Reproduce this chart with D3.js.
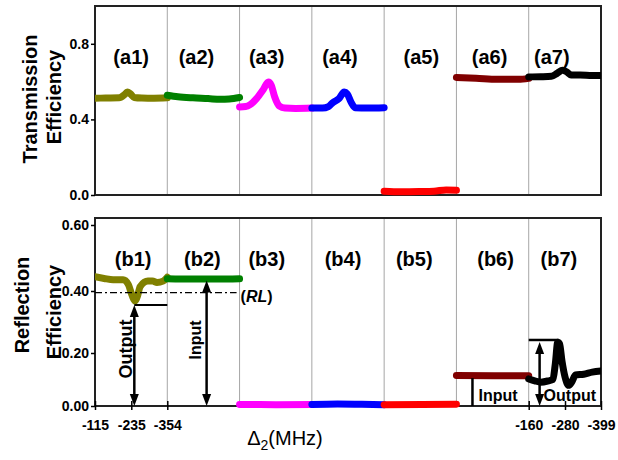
<!DOCTYPE html>
<html>
<head>
<meta charset="utf-8">
<script src="https://cdn.jsdelivr.net/npm/d3@7"></script>
<style>
  html, body { margin: 0; padding: 0; background: #fff; }
  svg { display: block; font-family: Arial, "Liberation Sans", sans-serif; }
</style>
</head>
<body>
<div id="chart"></div>
<script>
// ---- Data ----
const topLabels = ['(a1)', '(a2)', '(a3)', '(a4)', '(a5)', '(a6)', '(a7)'];
const bottomLabels = ['(b1)', '(b2)', '(b3)', '(b4)', '(b5)', '(b6)', '(b7)'];
const segmentColors = ['#808000', '#008000', '#ff00ff', '#0000ff', '#ff0000', '#800000', '#000000'];

// detuning sweep of every segment, MHz
const sweepStart = [-115, -115, -115, -115, -115, -115, -160];
const sweepEnd = [-354, -354, -354, -354, -354, -354, -399];

const transTicks = [0, 0.4, 0.8];
const reflTicks = [0, 0.2, 0.4, 0.6];
const detuningTicksFirst = [-115, -235, -354];
const detuningTicksLast = [-160, -280, -399];

// transmission, [detuning, efficiency]
const transA1 = [[-115, 0.512], [-150, 0.513], [-195, 0.514], [-212, 0.53], [-222, 0.545], [-232, 0.535], [-245, 0.516], [-270, 0.513], [-310, 0.512], [-354, 0.514]];
const transA2 = [[-115, 0.528], [-150, 0.52], [-200, 0.514], [-250, 0.51], [-290, 0.506], [-320, 0.508], [-354, 0.516]];
const transA3 = [[-115, 0.466], [-135, 0.468], [-150, 0.478], [-171, 0.51], [-194, 0.56], [-210, 0.598], [-220, 0.58], [-231, 0.52], [-247, 0.47], [-265, 0.46], [-300, 0.458], [-354, 0.46]];
const transA4 = [[-115, 0.46], [-150, 0.46], [-170, 0.468], [-185, 0.49], [-205, 0.51], [-222, 0.545], [-232, 0.535], [-245, 0.49], [-258, 0.462], [-300, 0.46], [-354, 0.462]];
const transA5 = [[-115, 0.02], [-170, 0.017], [-230, 0.018], [-280, 0.02], [-320, 0.027], [-354, 0.025]];
const transA6 = [[-115, 0.622], [-180, 0.618], [-250, 0.612], [-320, 0.612], [-354, 0.617]];
const transA7 = [[-160, 0.625], [-200, 0.626], [-235, 0.628], [-255, 0.645], [-272, 0.66], [-285, 0.652], [-300, 0.635], [-330, 0.635], [-370, 0.632], [-399, 0.632]];

// reflection, [detuning, efficiency]
const reflB1 = [[-115, 0.443], [-145, 0.438], [-175, 0.434], [-208, 0.434], [-225, 0.42], [-238, 0.385], [-247, 0.368], [-256, 0.385], [-264, 0.413], [-290, 0.43], [-305, 0.43], [-320, 0.426], [-340, 0.43], [-354, 0.442]];
const reflB2 = [[-115, 0.437], [-200, 0.436], [-280, 0.436], [-354, 0.437]];
const reflB3 = [[-115, 0.006], [-235, 0.005], [-354, 0.006]];
const reflB4 = [[-115, 0.006], [-200, 0.008], [-280, 0.007], [-354, 0.005]];
const reflB5 = [[-115, 0.005], [-240, 0.006], [-354, 0.007]];
const reflB6 = [[-115, 0.115], [-240, 0.114], [-354, 0.114]];
const reflB7 = [[-160, 0.102], [-180, 0.095], [-200, 0.09], [-225, 0.095], [-240, 0.1], [-248, 0.16], [-256, 0.235], [-262, 0.23], [-270, 0.17], [-280, 0.11], [-292, 0.078], [-302, 0.09], [-315, 0.117], [-342, 0.12], [-370, 0.128], [-399, 0.132]];

const transmission = [transA1, transA2, transA3, transA4, transA5, transA6, transA7];
const reflection = [reflB1, reflB2, reflB3, reflB4, reflB5, reflB6, reflB7];

// annotation values
const rlLevel = 0.395;
const outputB1 = { detuning: -245, level: 0.355 };
const inputB2 = { detuning: -245, level: 0.432 };
const inputB6 = { detuning: -168, level: 0.113 };
const outputB7 = { detuning: -196, level: 0.242 };

// ---- Layout ----
const width = 618;
const height = 460;
const plotLeft = 95;
const plotRight = 601;
const topPanel = { y0: 6, y1: 195 };
const bottomPanel = { y0: 218, y1: 406 };
const topLabelShift = [0, -7, -9, -8, 1, -3, -13];
const bottomLabelShift = [2, -1, -9, -5, -6, 3, -6];

document.addEventListener('DOMContentLoaded', () => {
    drawChart();
});

function drawChart() {
    const svg = d3.select('#chart')
        .append('svg')
        .attr('width', width)
        .attr('height', height);

    svg.append('rect')
        .attr('width', width)
        .attr('height', height)
        .attr('fill', '#fff');

    // one band per measurement segment
    const band = d3.scaleBand()
        .domain(d3.range(7))
        .range([plotLeft, plotRight]);

    const segX = i => d3.scaleLinear()
        .domain([sweepStart[i], sweepEnd[i]])
        .range([band(i), band(i) + band.bandwidth()]);

    const yTrans = d3.scaleLinear()
        .domain([0, 1])
        .range([topPanel.y1, topPanel.y0]);

    // the printed axis is not evenly spaced, follow it
    const yRefl = d3.scaleLinear()
        .domain([0, 0.2, 0.4, 0.6])
        .range([406, 353, 291, 225]);

    svg.append('defs')
        .append('clipPath')
        .attr('id', 'plot-clip')
        .append('rect')
        .attr('x', plotLeft)
        .attr('y', 0)
        .attr('width', plotRight - plotLeft)
        .attr('height', height);

    drawPanel(svg, band, segX, yTrans, topPanel, transmission, topLabels, topLabelShift, 57, transTicks, d3.format('.1f'));
    drawPanel(svg, band, segX, yRefl, bottomPanel, reflection, bottomLabels, bottomLabelShift, 259, reflTicks, d3.format('.2f'));

    // bottom detuning axes (first and last segment only)
    [[0, detuningTicksFirst], [6, detuningTicksLast]].forEach(([i, ticks]) => {
        const ax = svg.append('g')
            .attr('transform', `translate(0, ${bottomPanel.y1})`)
            .call(d3.axisBottom(segX(i))
                .tickValues(ticks)
                .tickFormat(d3.format('d'))
                .tickSizeInner(4)
                .tickSizeOuter(0)
                .tickPadding(10));
        ax.select('.domain').remove();
        ax.selectAll('.tick line')
            .attr('y1', -5)
            .attr('y2', 4)
            .attr('stroke', '#000')
            .attr('stroke-width', 1.5);
        ax.selectAll('.tick text')
            .attr('fill', '#000')
            .attr('font-size', '14px')
            .attr('font-weight', 'bold')
            .attr('font-family', 'Arial, "Liberation Sans", sans-serif')
            .text(d => d3.format('d')(d).replace('\u2212', '-'));
    });

    drawAnnotations(svg, segX, yRefl);

    // axis titles
    const title = svg.append('text')
        .attr('x', 285)
        .attr('y', 445)
        .attr('text-anchor', 'middle')
        .attr('font-size', '20px')
        .attr('fill', '#000');
    title.append('tspan').text('\u0394');
    title.append('tspan').attr('font-size', '14px').attr('dy', 5).text('2');
    title.append('tspan').attr('dy', -5).text('(MHz)');

    const yTitles = [
        ['Transmission', 30, 99],
        ['Efficiency', 54, 97],
        ['Reflection', 22, 305],
        ['Efficiency', 54, 312]
    ];
    yTitles.forEach(([txt, x, y]) => {
        svg.append('text')
            .attr('transform', `translate(${x}, ${y}) rotate(-90)`)
            .attr('text-anchor', 'middle')
            .attr('dominant-baseline', 'central')
            .attr('font-size', '20px')
            .attr('font-weight', 'bold')
            .attr('fill', '#000')
            .text(txt);
    });
}

/**
 * Draw one of the two stacked panels
 */
function drawPanel(svg, band, segX, y, panel, series, labels, labelShift, labelY, ticks, fmt) {
    const g = svg.append('g');

    // segment dividers
    g.selectAll('.divider')
        .data(d3.range(1, 7))
        .enter()
        .append('line')
        .attr('x1', i => band(i))
        .attr('x2', i => band(i))
        .attr('y1', panel.y0)
        .attr('y2', panel.y1)
        .attr('stroke', '#a6a6a6')
        .attr('stroke-width', 1);

    // frame
    g.append('rect')
        .attr('x', plotLeft)
        .attr('y', panel.y0)
        .attr('width', plotRight - plotLeft)
        .attr('height', panel.y1 - panel.y0)
        .attr('fill', 'none')
        .attr('stroke', '#222')
        .attr('stroke-width', 2);

    // y axis
    const yAxis = g.append('g')
        .attr('transform', `translate(${plotLeft}, 0)`)
        .call(d3.axisLeft(y)
            .tickValues(ticks)
            .tickFormat(fmt)
            .tickSizeInner(4)
            .tickSizeOuter(0)
            .tickPadding(2));
    yAxis.select('.domain').remove();
    yAxis.selectAll('.tick line')
        .attr('stroke', '#000')
        .attr('stroke-width', 1.5);
    yAxis.selectAll('.tick text')
        .attr('fill', '#000')
        .attr('font-size', '14px')
        .attr('font-weight', 'bold')
        .attr('font-family', 'Arial, "Liberation Sans", sans-serif');

    // data traces
    const traces = g.append('g').attr('clip-path', 'url(#plot-clip)');
    series.forEach((pts, i) => {
        const xs = segX(i);
        const line = d3.line()
            .x(d => xs(d[0]))
            .y(d => y(d[1]))
            .curve(d3.curveMonotoneX);
        traces.append('path')
            .datum(pts)
            .attr('d', line)
            .attr('fill', 'none')
            .attr('stroke', segmentColors[i])
            .attr('stroke-width', 7)
            .attr('stroke-linecap', 'round')
            .attr('stroke-linejoin', 'round');
    });

    // segment labels
    g.selectAll('.seg-label')
        .data(labels)
        .enter()
        .append('text')
        .attr('x', (d, i) => band(i) + band.bandwidth() / 2 + labelShift[i])
        .attr('y', labelY)
        .attr('text-anchor', 'middle')
        .attr('dominant-baseline', 'central')
        .attr('font-size', '20px')
        .attr('font-weight', 'bold')
        .attr('fill', '#000')
        .text(d => d);
}

function arrowHead(g, x, y, dir) {
    // dir -1 points up, 1 points down; tip at (x, y)
    const w = 4.5, h = 12;
    g.append('path')
        .attr('d', `M${x},${y} L${x - w},${y - dir * h} L${x + w},${y - dir * h} Z`)
        .attr('fill', '#000');
}

function doubleArrow(g, x, yTopPx, yBotPx) {
    g.append('line')
        .attr('x1', x).attr('x2', x)
        .attr('y1', yTopPx + 8).attr('y2', yBotPx - 8)
        .attr('stroke', '#000')
        .attr('stroke-width', 2.5);
    arrowHead(g, x, yTopPx, -1);
    arrowHead(g, x, yBotPx, 1);
}

function drawAnnotations(svg, segX, y) {
    const g = svg.append('g');
    const base = y(0);

    // RL reference line
    g.append('line')
        .attr('x1', plotLeft)
        .attr('x2', segX(1).range()[1] - 3)
        .attr('y1', y(rlLevel))
        .attr('y2', y(rlLevel))
        .attr('stroke', '#000')
        .attr('stroke-width', 1.3)
        .attr('stroke-dasharray', '7,3,2,3');
    const rl = g.append('text')
        .attr('x', segX(1).range()[1] + 1)
        .attr('y', y(rlLevel) + 3)
        .attr('dominant-baseline', 'central')
        .attr('font-size', '16px')
        .attr('font-weight', 'bold')
        .attr('fill', '#000');
    rl.append('tspan').text('(');
    rl.append('tspan').attr('font-style', 'italic').text('RL');
    rl.append('tspan').text(')');

    // output, segment b1
    const x1 = segX(0)(outputB1.detuning);
    doubleArrow(g, x1, y(outputB1.level), base);
    g.append('line')
        .attr('x1', x1).attr('x2', segX(0).range()[1])
        .attr('y1', y(outputB1.level)).attr('y2', y(outputB1.level))
        .attr('stroke', '#000').attr('stroke-width', 2);
    g.append('text')
        .attr('transform', `translate(${x1 - 2}, 349) rotate(-90)`)
        .attr('text-anchor', 'middle')
        .attr('font-size', '18px')
        .attr('font-weight', 'bold')
        .attr('fill', '#000')
        .text('Output');

    // input, segment b2
    const x2 = segX(1)(inputB2.detuning);
    doubleArrow(g, x2, y(inputB2.level), base);
    g.append('text')
        .attr('transform', `translate(${x2 - 6}, 340) rotate(-90)`)
        .attr('text-anchor', 'middle')
        .attr('font-size', '16px')
        .attr('font-weight', 'bold')
        .attr('fill', '#000')
        .text('Input');

    // input, segment b6
    const x6 = segX(5)(inputB6.detuning);
    g.append('line')
        .attr('x1', x6).attr('x2', x6)
        .attr('y1', y(inputB6.level) + 2).attr('y2', base)
        .attr('stroke', '#000').attr('stroke-width', 2.5);
    g.append('text')
        .attr('x', x6 + 6)
        .attr('y', 401)
        .attr('font-size', '16px')
        .attr('font-weight', 'bold')
        .attr('fill', '#000')
        .text('Input');

    // output, segment b7
    const x7 = segX(6)(outputB7.detuning);
    const yTop7 = y(outputB7.level);
    g.append('line')
        .attr('x1', segX(6).range()[0]).attr('x2', x7 + 19)
        .attr('y1', yTop7).attr('y2', yTop7)
        .attr('stroke', '#000').attr('stroke-width', 2.5);
    doubleArrow(g, x7, yTop7 + 2, base);
    g.append('text')
        .attr('x', x7 + 4)
        .attr('y', 401)
        .attr('font-size', '16px')
        .attr('font-weight', 'bold')
        .attr('fill', '#000')
        .text('Output');
}
</script>
</body>
</html>
